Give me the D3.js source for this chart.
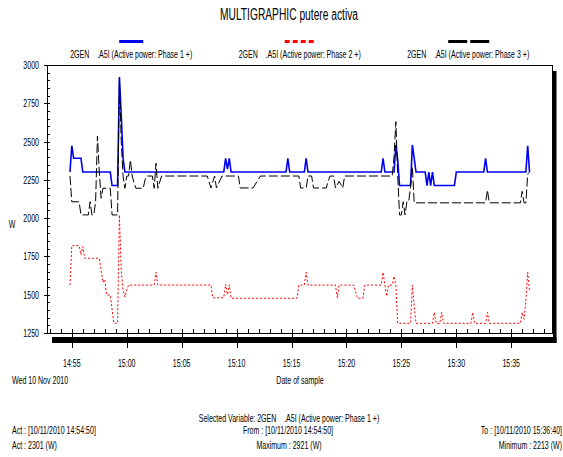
<!DOCTYPE html>
<html lang="en">
<head>
  <meta charset="UTF-8" />
  <title>MULTIGRAPHIC putere activa</title>
  <style>
    body { margin: 0; background: #fff; }
    svg { display: block; font-family: "Liberation Sans", Arial, sans-serif; }
    text { white-space: pre; fill: #000; }
  </style>
</head>
<body>
  <svg id="chart" width="563" height="457"></svg>

  <script src="https://d3js.org/d3.v7.min.js"></script>
  <script>
    // sample times / values (W)
    const times1 = ["14:54:50","14:55:00","14:55:10","14:55:50","14:56:00","14:58:30","14:58:40","14:59:10","14:59:20","14:59:30","14:59:40","14:59:50",
      "15:08:50","15:09:00","15:09:10","15:09:20","15:09:30","15:14:30","15:14:40","15:14:50","15:16:10","15:16:20","15:16:30",
      "15:23:10","15:23:20","15:23:30","15:24:20","15:24:30","15:24:40","15:24:50","15:25:50","15:26:00","15:26:10","15:26:20",
      "15:27:10","15:27:20","15:27:30","15:27:40","15:27:50","15:28:00","15:29:50","15:30:00",
      "15:32:30","15:32:40","15:32:50","15:36:20","15:36:30","15:36:40"];
    const phase1 = [2301,2473,2391,2391,2301,2301,2213,2213,2921,2674,2391,2301,
      2301,2391,2320,2391,2301,2301,2391,2301,2301,2391,2301,
      2301,2391,2301,2301,2478,2380,2213,2213,2478,2391,2301,
      2301,2213,2301,2213,2301,2213,2213,2301,
      2301,2391,2301,2301,2473,2301];

    const times2 = ["14:54:50","14:55:00","14:55:40","14:55:50","14:56:00","14:56:10","14:57:30","14:57:40","14:57:50","14:58:00","14:58:10","14:58:30",
      "14:58:50","14:59:10","14:59:20","14:59:30","14:59:40","14:59:50","15:00:00","15:00:10","15:02:30","15:02:40","15:02:50",
      "15:07:40","15:07:50","15:08:50","15:09:00","15:09:10","15:09:20","15:09:30","15:15:30","15:15:40","15:16:10","15:16:20","15:16:30",
      "15:19:00","15:19:10","15:19:20","15:20:40","15:20:50","15:21:00","15:21:30","15:21:40",
      "15:23:10","15:23:20","15:23:30","15:23:40","15:23:50","15:24:10","15:24:20","15:24:30","15:24:40",
      "15:25:50","15:26:00","15:26:10","15:26:20","15:27:50","15:28:00","15:28:10","15:28:30","15:28:40","15:28:50",
      "15:31:20","15:31:30","15:31:40","15:32:40","15:32:50","15:33:00","15:35:50","15:36:00","15:36:10","15:36:20","15:36:30","15:36:40"];
    const phase2 = [1563,1820,1820,1760,1815,1738,1738,1660,1580,1600,1498,1498,
      1313,1313,2021,1660,1530,1485,1530,1563,1563,1646,1563,
      1563,1480,1480,1570,1500,1565,1477,1477,1563,1563,1646,1563,
      1563,1480,1563,1563,1520,1477,1477,1563,
      1563,1646,1563,1490,1563,1563,1620,1560,1313,
      1313,1563,1430,1313,1313,1385,1313,1313,1385,1313,
      1313,1385,1313,1313,1385,1313,1313,1385,1340,1460,1646,1520];

    const times3 = ["14:54:50","14:55:00","14:55:40","14:55:50","14:56:30","14:56:40","14:56:50","14:57:00","14:57:10","14:57:20","14:57:30","14:57:40","14:57:50",
      "14:58:30","14:58:40","14:59:10","14:59:20","14:59:30","14:59:40","14:59:50","15:00:00","15:00:10","15:00:20","15:00:30","15:00:40","15:00:50",
      "15:01:30","15:01:40","15:01:50","15:02:20","15:02:30","15:02:40","15:02:50","15:03:10",
      "15:07:20","15:07:40","15:08:00","15:08:10","15:08:40","15:10:10","15:10:20","15:11:30","15:12:10",
      "15:15:40","15:15:50","15:16:20","15:16:30","15:16:50","15:17:00","15:18:10","15:18:20","15:18:30","15:18:50","15:19:00","15:19:20","15:19:40","15:19:50",
      "15:24:10","15:24:20","15:24:30","15:24:40","15:24:50","15:25:00","15:25:10","15:25:20","15:25:30","15:25:40","15:25:50","15:26:00","15:26:10",
      "15:32:40","15:32:50","15:33:00","15:35:50","15:36:00","15:36:10","15:36:20","15:36:30","15:36:40"];
    const phase3 = [2275,2107,2107,2021,2021,2107,2021,2021,2107,2536,2303,2130,2195,
      2195,2021,2021,2913,2500,2275,2195,2275,2275,2380,2275,2230,2195,
      2195,2250,2275,2275,2195,2358,2195,2275,
      2275,2197,2275,2197,2275,2275,2197,2197,2275,
      2275,2197,2197,2275,2275,2197,2197,2240,2275,2275,2197,2240,2197,2275,
      2275,2400,2630,2280,2021,2021,2107,2021,2107,2107,2200,2336,2100,
      2100,2184,2100,2100,2175,2100,2100,2288,2300];

    const seriesNames = ["2GEN    .A5I (Active power: Phase 1 +)", "2GEN    .A5I (Active power: Phase 2 +)", "2GEN    .A5I (Active power: Phase 3 +)"];
    const xTicks = ["14:55","15:00","15:05","15:10","15:15","15:20","15:25","15:30","15:35"];
    const yTicks = [1250, 1500, 1750, 2000, 2250, 2500, 2750, 3000];

    const parse = d3.timeParse("%Y-%m-%d %H:%M:%S");
    const day = "2010-11-10 ";
    const toPoints = (ts, vs) => ts.map((t, i) => ({ t: parse(day + t), v: vs[i] }));
    const series = [
      { pts: toPoints(times1, phase1), color: "#0000f0", width: 1.6, dash: null },
      { pts: toPoints(times2, phase2), color: "#ff0000", width: 1, dash: "2,2" },
      { pts: toPoints(times3, phase3), color: "#000", width: 1, dash: "9,3" }
    ];

    const L = 47, T = 65, R = 552.5, B = 333;
    const SX = 0.64; // narrow font look

    const svg = d3.select("#chart");

    function label(x, y, s, anchor, size) {
      svg.append("text")
        .attr("transform", `translate(${x},${y}) scale(${SX},1)`)
        .attr("text-anchor", anchor || "start")
        .style("font-size", (size || 11) + "px")
        .text(s);
    }

    // x domain = data range padded by 5% each side
    const t0 = parse(day + times1[0]), t1 = parse(day + times1[times1.length - 1]);
    const pad = (t1 - t0) * 0.05;
    const x = d3.scaleTime().domain([new Date(+t0 - pad), new Date(+t1 + pad)]).range([L, R]);
    const y = d3.scaleLinear().domain([1250, 3000]).range([B, T]);

    // shadow + frame
    svg.append("rect").attr("x", L + 5).attr("y", T + 6).attr("width", R - L - 1).attr("height", B - T + 4).attr("fill", "#000");
    svg.append("rect").attr("x", L).attr("y", T).attr("width", R - L + 0.5).attr("height", B - T + 4).attr("fill", "#fff");
    svg.append("rect").attr("x", L).attr("y", T).attr("width", R - L).attr("height", B - T)
      .attr("fill", "none").attr("stroke", "#000").attr("shape-rendering", "crispEdges");

    // y axis ticks
    const yMinor = d3.range(1250, 3001, 50);
    svg.append("g").attr("transform", `translate(${L},0)`)
      .call(d3.axisRight(y).tickValues(yMinor).tickSize(3).tickFormat(""))
      .call(g => g.select(".domain").remove());
    svg.append("g").attr("transform", `translate(${L},0)`)
      .call(d3.axisLeft(y).tickValues(yTicks).tickSize(3).tickFormat(""))
      .call(g => g.select(".domain").remove());
    yTicks.forEach(v => label(39, y(v) + 4, String(v), "end"));
    label(12, 228, "W", "middle");

    // x axis ticks
    const fmt = d3.timeParse("%Y-%m-%d %H:%M");
    const xMajor = xTicks.map(s => fmt(day.trim() + " " + s));
    const xMinor = d3.timeMinute.range(x.domain()[0], x.domain()[1]);
    svg.append("g").attr("transform", `translate(0,${B})`)
      .call(d3.axisTop(x).tickValues(xMinor).tickSize(4).tickFormat(""))
      .call(g => g.select(".domain").remove());
    svg.append("g").attr("transform", `translate(0,${B - 4})`)
      .call(d3.axisBottom(x).tickValues(xMajor).tickSize(19).tickFormat(""))
      .call(g => g.select(".domain").remove());
    svg.selectAll(".tick line").attr("stroke", "#000").attr("shape-rendering", "crispEdges");
    // redraw shadow band over major ticks
    svg.append("rect").attr("x", L + 5).attr("y", B + 4).attr("width", R - L - 1).attr("height", 6).attr("fill", "#000");
    xMajor.forEach((d, i) => label(x(d), 367, xTicks[i], "middle"));

    // lines
    const line = d3.line().x(d => x(d.t)).y(d => y(d.v));
    const plot = svg.append("g");
    series.forEach(s => {
      plot.append("path").datum(s.pts)
        .attr("d", line)
        .attr("fill", "none")
        .attr("stroke", s.color)
        .attr("stroke-width", s.width)
        .attr("stroke-dasharray", s.dash);
    });

    // legend
    const lx = [1, 3, 5].map(k => L + (R - L) * k / 6);
    svg.append("rect").attr("x", lx[0] - 12).attr("y", 40).attr("width", 24).attr("height", 3).attr("fill", "#0000f0");
    d3.range(4).forEach(i => svg.append("rect").attr("x", lx[1] - 15 + i * 8).attr("y", 40).attr("width", 5).attr("height", 3).attr("fill", "#ff0000"));
    d3.range(2).forEach(i => svg.append("rect").attr("x", lx[2] - 20 + i * 22).attr("y", 40).attr("width", 19).attr("height", 3).attr("fill", "#000"));
    seriesNames.forEach((s, i) => label(lx[i], 58, s, "middle"));

    // titles and footer
    label(289, 20, "MULTIGRAPHIC putere activa", "middle", 16);
    label(12, 384, "Wed 10 Nov 2010", "start");
    label(300, 384, "Date of sample", "middle");
    label(289, 422, "Selected Variable: " + seriesNames[0], "middle");
    label(12, 434, "Act : [10/11/2010 14:54:50]", "start");
    label(288, 434, "From : [10/11/2010 14:54:50]", "middle");
    label(562, 434, "To : [10/11/2010 15:36:40]", "end");
    label(12, 449, "Act : " + phase1[0] + " (W)", "start");
    label(289, 449, "Maximum : " + d3.max(phase1) + " (W)", "middle");
    label(562, 449, "Minimum : " + d3.min(phase1) + " (W)", "end");
  </script>
</body>
</html>
